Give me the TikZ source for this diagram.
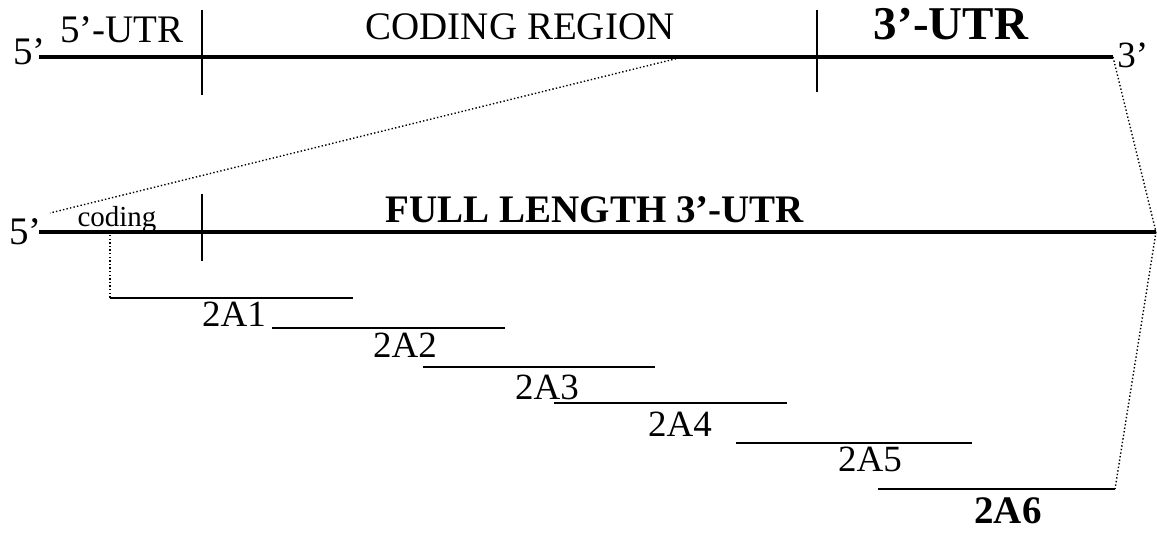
\documentclass[tikz,border=0pt]{standalone}
\usepackage{fontspec}
\setmainfont{Liberation Serif}
\begin{document}
\begin{tikzpicture}[x=0.5pt,y=-0.5pt,
  strand/.style={line width=2.1pt},
  frag/.style={line width=1.1pt},
  tickmark/.style={line width=0.7pt},
  guide/.style={line width=0.7pt, dash pattern=on 0.7pt off 1.1pt},
  lbl/.style={inner sep=0pt, anchor=base, font=\fontsize{18.5}{22}\selectfont},
  bold/.style={lbl, font=\fontsize{19.5}{23}\selectfont\bfseries},
]
\useasboundingbox (0,0) rectangle (1157,533);

% ---- mRNA overview ----
\coordinate (m5) at (39,57);
\coordinate (m3) at (1113,57);
\coordinate (mc) at (683,57);
\draw[strand] (m5) -- (m3);
\coordinate (k1a) at (202,10);  \coordinate (k1b) at (202,95);
\coordinate (k2a) at (817,10);  \coordinate (k2b) at (817,92);
\draw[tickmark] (k1a) -- (k1b);
\draw[tickmark] (k2a) -- (k2b);

\node[lbl, anchor=base west, font=\fontsize{19.5}{23}\selectfont] (p5) at (13,65) {5’};
\node[lbl, font=\fontsize{19.5}{23}\selectfont] (utr5) at (122,43) {5’-UTR};
\node[lbl, font=\fontsize{19.5}{23}\selectfont] (cod) at (520,40) {CODING REGION};
\node[lbl, font=\fontsize{23.5}{27}\selectfont\bfseries] (utr3) at (951,40) {3’-UTR};
\node[lbl, anchor=base west] (p3) at (1117,68) {3’};

% ---- enlarged 3'-UTR ----
\coordinate (u5) at (39,232);
\coordinate (u3) at (1156,232);
\coordinate (uc) at (50,213);
\draw[strand] (u5) -- (u3);
\coordinate (k3a) at (202,194); \coordinate (k3b) at (202,261);
\draw[line width=1.3pt] (k3a) -- (k3b);

\node[lbl, anchor=base west, font=\fontsize{19.5}{23}\selectfont] (q5) at (9,245) {5’};
\node[lbl, font=\fontsize{14.5}{17}\selectfont] (codsmall) at (117,227) {coding};
\node[bold] (full) at (595,223) {FULL LENGTH 3’-UTR};

% zoom guides
\draw[guide] (mc) -- (uc);
\draw[guide] (m3) -- (u3);

% ---- fragments 2A1 to 2A6 ----
\coordinate (cd) at (110,235);
\coordinate (f1s) at (110,298); \coordinate (f1e) at (353,298);
\coordinate (f2s) at (272,328); \coordinate (f2e) at (505,328);
\coordinate (f3s) at (423,367); \coordinate (f3e) at (655,367);
\coordinate (f4s) at (554,403); \coordinate (f4e) at (787,403);
\coordinate (f5s) at (736,443); \coordinate (f5e) at (972,443);
\coordinate (f6s) at (878,489); \coordinate (f6e) at (1115,489);

\draw[guide] (cd) -- (f1s);
\draw[guide] (u3) -- (f6e);
\draw[frag] (f1s) -- (f1e);
\draw[frag] (f2s) -- (f2e);
\draw[frag] (f3s) -- (f3e);
\draw[frag] (f4s) -- (f4e);
\draw[frag] (f5s) -- (f5e);
\draw[frag] (f6s) -- (f6e);

\node[lbl] (a1) at (234,327) {2A1};
\node[lbl] (a2) at (405,358) {2A2};
\node[lbl] (a3) at (547,400) {2A3};
\node[lbl] (a4) at (680,437) {2A4};
\node[lbl] (a5) at (870,472) {2A5};
\node[bold] (a6) at (1008,524) {2A6};
\end{tikzpicture}
\end{document}
